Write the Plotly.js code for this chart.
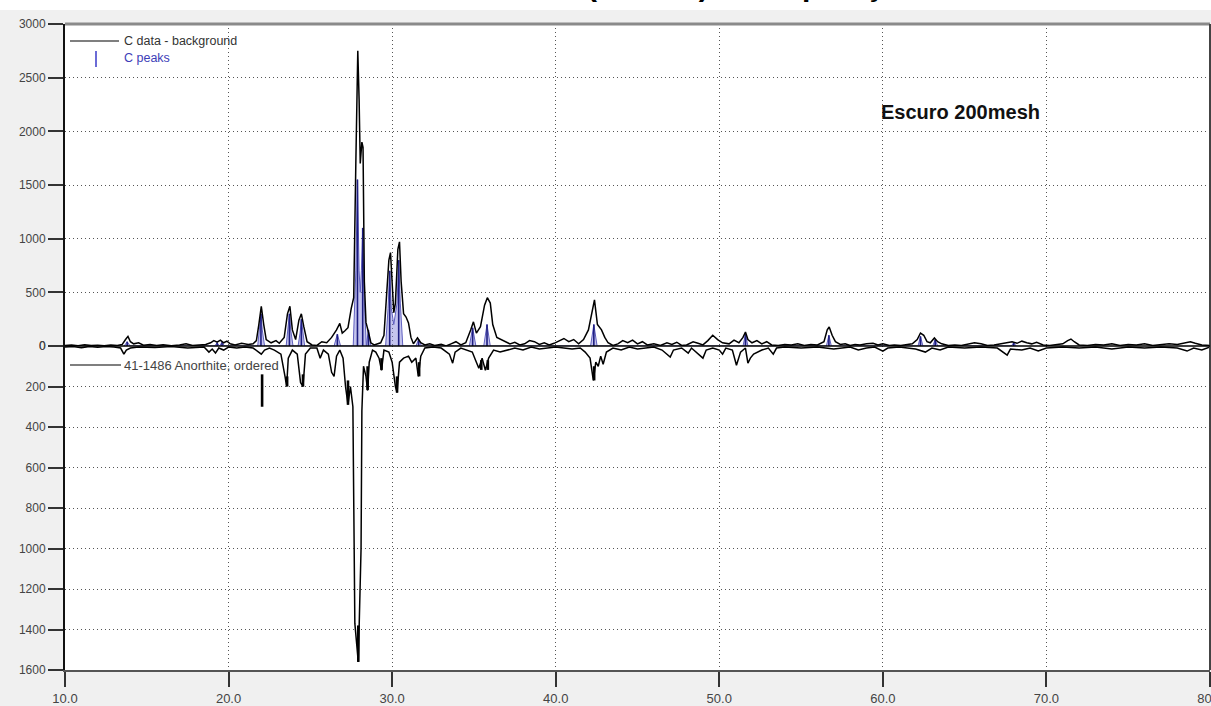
<!DOCTYPE html>
<html>
<head>
<meta charset="utf-8">
<script src="https://cdn.plot.ly/plotly-3.0.1.min.js"></script>
<style>html,body{margin:0;padding:0;background:#f0f0f0;}#chart{width:1211px;height:706px;}</style>
</head>
<body>
<div id="chart"></div>
<script>
// ---- Data: sample "C data - background" (top, counts) ----
var topX = [10.0,10.4,10.8,11.2,11.6,12.0,12.4,12.8,13.2,13.5,13.7,13.85,14.0,14.2,14.5,14.8,15.2,15.6,16.0,16.5,17.0,17.4,17.8,18.2,18.6,18.9,19.1,19.3,19.5,19.7,19.9,20.1,20.4,20.8,21.2,21.5,21.7,21.85,22.0,22.15,22.3,22.6,22.9,23.1,23.4,23.6,23.75,23.9,24.1,24.3,24.45,24.6,24.8,25.1,25.4,25.7,26.0,26.3,26.6,26.8,26.95,27.1,27.3,27.5,27.65,27.78,27.9,27.98,28.05,28.15,28.22,28.3,28.4,28.55,28.7,28.9,29.1,29.3,29.5,29.65,29.8,29.9,30.0,30.1,30.2,30.35,30.45,30.55,30.7,30.85,31.0,31.15,31.3,31.55,31.75,32.0,32.3,32.6,33.0,33.3,33.6,33.9,34.2,34.5,34.8,34.97,35.15,35.4,35.65,35.82,36.0,36.15,36.4,36.7,36.9,37.2,37.5,37.8,38.1,38.4,38.7,39.0,39.3,39.6,39.9,40.2,40.5,40.8,41.1,41.4,41.7,42.0,42.2,42.37,42.55,42.8,43.0,43.2,43.5,43.8,44.1,44.4,44.7,45.0,45.3,45.6,46.0,46.4,46.8,47.1,47.4,47.7,48.0,48.4,48.7,49.0,49.3,49.6,49.9,50.2,50.6,50.9,51.2,51.45,51.6,51.75,52.0,52.3,52.6,52.9,53.2,53.6,54.0,54.4,54.8,55.2,55.6,56.0,56.4,56.6,56.72,56.9,57.1,57.4,57.7,58.0,58.3,58.6,59.0,59.4,59.7,60.0,60.4,60.7,61.1,61.5,61.8,62.1,62.3,62.5,62.7,62.9,63.15,63.35,63.6,64.0,64.4,64.8,65.2,65.6,66.0,66.4,66.8,67.2,67.6,67.9,68.2,68.5,68.8,69.1,69.4,69.8,70.2,70.6,71.0,71.3,71.5,71.7,72.0,72.5,73.0,73.5,74.0,74.5,75.0,75.5,76.0,76.5,77.0,77.5,78.0,78.5,78.8,79.1,79.5,80.0];
var topY = [5,10,3,12,4,8,2,10,5,15,60,90,40,20,30,8,15,5,12,3,10,20,5,10,15,30,50,35,55,30,45,20,10,25,15,20,50,200,370,200,60,30,50,25,80,300,370,150,60,240,300,180,40,10,5,40,30,80,150,210,120,140,170,350,450,1700,2750,2300,1700,1900,1850,600,220,130,30,10,20,30,100,500,800,870,600,310,400,900,970,600,300,270,215,80,20,75,30,10,20,5,15,0,20,40,10,30,150,225,120,180,380,450,400,200,80,60,40,20,35,10,20,50,40,15,30,10,25,50,70,40,60,20,60,150,300,430,200,150,80,30,5,20,50,30,55,20,40,10,20,5,30,15,35,5,10,40,25,10,50,100,60,30,20,55,30,80,130,60,30,50,20,40,10,5,15,10,20,5,15,10,40,150,177,100,40,15,20,5,15,10,20,25,10,20,5,10,5,15,20,60,121,100,40,30,75,40,20,5,10,5,15,30,20,5,10,20,30,40,25,45,30,20,35,10,5,10,20,50,65,40,10,5,15,10,20,5,15,10,20,5,10,20,15,30,40,25,10,5];

// ---- Data: "C peaks" (blue) ----
var peakX = [13.8,19.3,19.6,21.98,23.72,24.45,26.65,27.88,28.2,28.55,29.85,30.4,31.62,34.92,35.8,42.33,51.6,56.7,62.3,63.2,68.0];
var peakH = [40,30,35,300,300,250,110,1550,1100,150,700,800,60,170,200,200,110,100,90,60,30];
var peakProfX = [13.62,13.8,13.98,19.15,19.3,19.45,19.6,19.75,21.78,21.9,21.98,22.06,22.2,23.52,23.64,23.72,23.8,23.94,24.25,24.37,24.45,24.53,24.65,26.45,26.65,26.85,27.62,27.78,27.88,27.98,28.05,28.12,28.2,28.28,28.42,28.55,28.7,29.6,29.75,29.85,29.95,30.1,30.3,30.4,30.5,30.65,31.45,31.62,31.8,34.72,34.92,35.12,35.6,35.8,36.0,42.13,42.33,42.53,51.45,51.6,51.75,56.55,56.7,56.85,62.15,62.3,62.45,63.05,63.2,63.35,67.85,68.0,68.15];
var peakProfY = [0,40,0,0,30,0,35,0,0,150,300,150,0,0,150,300,150,0,0,120,250,120,0,0,110,0,0,700,1550,700,500,700,1100,500,0,150,0,0,350,700,350,200,400,800,400,0,0,60,0,0,170,0,0,200,0,0,200,0,0,110,0,0,100,0,0,90,0,0,60,0,0,30,0];

// ---- Data: "41-1486 Anorthite, ordered" (bottom, plotted downward) ----
var botX = [10.0,10.5,11.0,11.5,12.0,12.5,13.0,13.4,13.6,13.75,14.0,14.5,15.5,16.5,17.5,18.5,18.8,19.0,19.2,19.4,19.7,20.0,20.5,21.0,21.5,21.8,22.0,22.2,22.5,22.8,23.2,23.45,23.55,23.65,23.9,24.2,24.4,24.55,24.7,25.0,25.4,25.6,25.8,26.1,26.3,26.45,26.6,26.8,27.0,27.15,27.3,27.45,27.6,27.72,27.93,28.1,28.15,28.25,28.4,28.5,28.6,28.8,29.0,29.2,29.35,29.5,29.8,30.0,30.2,30.3,30.45,30.7,31.0,31.2,31.45,31.6,31.75,32.0,32.5,33.0,33.5,33.7,33.85,34.2,34.6,34.9,35.1,35.3,35.5,35.7,35.9,36.2,36.6,37.0,37.5,38.0,38.5,39.0,39.5,40.0,40.5,41.0,41.5,41.8,42.1,42.3,42.45,42.6,42.75,42.9,43.1,43.5,44.0,44.5,45.0,45.5,46.0,46.5,47.0,47.2,47.7,48.1,48.3,49.0,49.2,49.6,50.0,50.2,50.4,50.8,51.05,51.3,51.6,51.75,51.9,52.1,52.6,53.0,53.3,53.5,54.0,55.0,56.0,57.0,57.5,58.0,58.5,59.0,59.5,60.0,60.3,61.0,61.5,62.0,62.6,63.0,63.5,64.0,65.0,66.0,67.0,67.6,67.8,68.5,69.0,69.5,70.0,71.0,72.0,73.0,74.0,75.0,76.0,77.0,78.0,78.6,79.0,79.5,80.0];
var botY = [5,3,8,2,6,3,5,10,40,20,10,5,8,3,10,5,30,15,35,10,20,5,10,5,10,30,40,20,10,20,40,150,200,60,20,40,180,200,40,10,10,60,20,40,130,150,50,20,60,200,290,200,300,1370,1560,1000,320,100,150,220,80,20,30,60,120,20,30,80,200,230,80,60,50,80,60,150,50,10,5,10,40,85,30,10,20,30,70,110,60,120,60,20,30,20,10,20,5,15,10,5,10,15,10,30,60,170,80,100,50,90,30,10,20,5,15,10,5,20,55,20,10,35,10,60,20,10,20,40,10,20,95,30,10,85,60,40,20,10,40,10,5,10,5,15,10,5,20,10,5,25,10,5,10,15,30,10,20,5,10,5,10,45,15,20,10,25,10,5,10,5,15,5,10,5,10,25,10,20,5];
var refX = [22.05,23.58,24.55,27.3,27.93,28.5,29.35,30.3,31.65,35.45,35.85,42.35];
var refFrom = [140,150,140,170,1380,100,60,150,80,70,70,100];
var refTo = [300,200,200,290,1560,217,118,230,150,118,118,170];

// ---- Text ----
var xTickVals = [10,20,30,40,50,60,70,80];
var xTickText = ["10.0","20.0","30.0","40.0","50.0","60.0","70.0","80.0"];
var legendTop1 = "C data - background";
var legendTop2 = "C peaks";
var legendBot = "41-1486 Anorthite, ordered";
var sampleLabel = "Escuro 200mesh";
var chartTitle = "Amostra (Escuro) - Comparação";

// ---- Build stick segments ----
function sticks(xs, a, b) {
  var X = [], Y = [];
  for (var i = 0; i < xs.length; i++) { X.push(xs[i], xs[i], null); Y.push(a[i], b[i], null); }
  return {x: X, y: Y};
}
var blueSt = sticks(peakX, peakX.map(function(){return 0;}), peakH);
var refSt = sticks(refX, refFrom, refTo);

// ---- Pixel helpers for decorations ----
var L = 65, R = 1210, T = 24, B = 670;
function px(x) { return (x - L) / (R - L); }
function py(y) { return (B - y) / (B - T); }
var split = (B - 346) / (B - T);

var FONT = "Liberation Sans, Arial, sans-serif";

var traces = [
  {x: peakProfX, y: peakProfY, xaxis: 'x', yaxis: 'y', type: 'scatter', mode: 'lines',
   fill: 'tozeroy', fillcolor: 'rgba(125,125,215,0.45)', line: {color: '#6060c0', width: 1}, hoverinfo: 'skip'},
  {x: blueSt.x, y: blueSt.y, xaxis: 'x', yaxis: 'y', type: 'scatter', mode: 'lines',
   line: {color: '#1c1c80', width: 1.6}, hoverinfo: 'skip'},
  {x: topX, y: topY, xaxis: 'x', yaxis: 'y', type: 'scatter', mode: 'lines',
   line: {color: '#000', width: 1.5}},
  {x: botX, y: botY, xaxis: 'x', yaxis: 'y2', type: 'scatter', mode: 'lines',
   line: {color: '#000', width: 1.5}},
  {x: refSt.x, y: refSt.y, xaxis: 'x', yaxis: 'y2', type: 'scatter', mode: 'lines',
   line: {color: '#000', width: 2.6}, hoverinfo: 'skip'}
];

var axCommon = {
  showgrid: true, gridcolor: '#555', griddash: '1px,3px', gridwidth: 1,
  ticks: 'outside', ticklen: 15, tickwidth: 2, tickcolor: '#333',
  showline: true, linecolor: '#111', linewidth: 2, zeroline: false,
  tickfont: {family: FONT, size: 12, color: '#444'}
};

var layout = {
  width: 1211, height: 706,
  margin: {l: L, r: 1211 - R, t: T, b: 706 - B, pad: 0},
  paper_bgcolor: '#f0f0f0', plot_bgcolor: '#ffffff',
  showlegend: false,
  xaxis: Object.assign({}, axCommon, {
    range: [10, 80.0001], tickmode: 'array', tickvals: xTickVals, ticktext: xTickText,
    anchor: 'y2', linecolor: '#555', ticklabeloverflow: 'allow',
    tickfont: {family: FONT, size: 13, color: '#444'}
  }),
  yaxis: Object.assign({}, axCommon, {
    domain: [split, 1], range: [0, 3000], dtick: 500, tick0: 0, anchor: 'x'
  }),
  yaxis2: Object.assign({}, axCommon, {
    domain: [0, split], range: [1600, 0], dtick: 200, tick0: 0, anchor: 'x'
  }),
  shapes: [
    {type: 'rect', xref: 'paper', yref: 'paper', x0: px(-5), x1: px(1220), y0: py(10), y1: py(-5),
     fillcolor: '#ffffff', line: {width: 0}, layer: 'below'},
    {type: 'line', xref: 'paper', yref: 'paper', x0: 0, x1: 1, y0: 1, y1: 1, line: {color: '#8a8a8a', width: 3}},
    {type: 'line', xref: 'paper', yref: 'paper', x0: 1, x1: 1, y0: 0, y1: 1, line: {color: '#444', width: 2}},
    {type: 'line', xref: 'paper', yref: 'paper', x0: 0, x1: 1, y0: split, y1: split, line: {color: '#000', width: 1.5}},
    {type: 'line', xref: 'paper', yref: 'paper', x0: px(70), x1: px(119), y0: py(41), y1: py(41), line: {color: '#000', width: 1.2}},
    {type: 'line', xref: 'paper', yref: 'paper', x0: px(96), x1: px(96), y0: py(51), y1: py(67), line: {color: '#3a3ac8', width: 1.5}},
    {type: 'line', xref: 'paper', yref: 'paper', x0: px(70), x1: px(121), y0: py(365), y1: py(365), line: {color: '#000', width: 1.2}}
  ],
  annotations: [
    {xref: 'paper', yref: 'paper', x: px(122), y: py(41), xanchor: 'left', yanchor: 'middle', showarrow: false,
     text: legendTop1, font: {family: FONT, size: 12.5, color: '#333'}},
    {xref: 'paper', yref: 'paper', x: px(122), y: py(58), xanchor: 'left', yanchor: 'middle', showarrow: false,
     text: legendTop2, font: {family: FONT, size: 12.5, color: '#3d3db8'}},
    {xref: 'paper', yref: 'paper', x: px(122), y: py(365), xanchor: 'left', yanchor: 'middle', showarrow: false,
     text: legendBot, font: {family: FONT, size: 13, color: '#444'}},
    {xref: 'paper', yref: 'paper', x: px(879), y: py(112), xanchor: 'left', yanchor: 'middle', showarrow: false,
     text: '<b>' + sampleLabel + '</b>', font: {family: FONT, size: 20, color: '#111'}},
    {xref: 'paper', yref: 'paper', x: px(455), y: py(4), xanchor: 'left', yanchor: 'bottom', showarrow: false,
     text: '<b>' + chartTitle + '</b>', font: {family: FONT, size: 30, color: '#000'}}
  ]
};

Plotly.newPlot('chart', traces, layout, {displayModeBar: false, staticPlot: true});
</script>
</body>
</html>
